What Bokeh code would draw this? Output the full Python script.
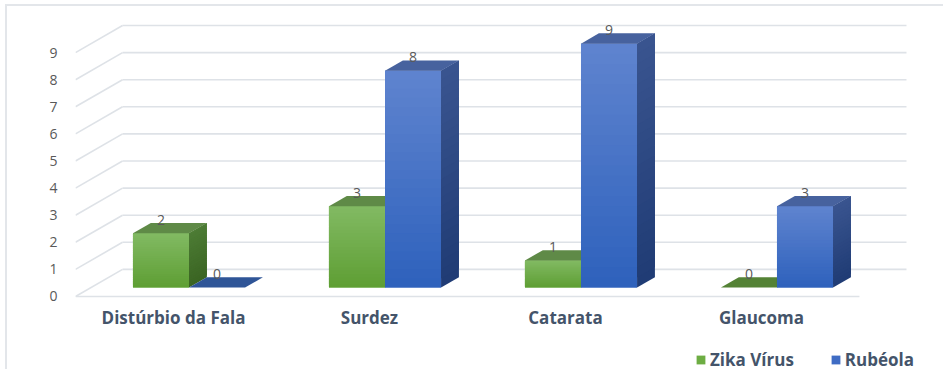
from bokeh.plotting import figure
from bokeh.models import ColumnDataSource, FixedTicker, Legend, LegendItem, Range1d
from bokeh.core.properties import value
from bokeh.embed import file_html
from bokeh.resources import INLINE

# ---------------- data ----------------
categories = ["Distúrbio da Fala", "Surdez", "Catarata", "Glaucoma"]
zika_virus = [2, 3, 1, 0]
rubeola = [0, 8, 9, 3]
series_names = ["Zika Vírus", "Rubéola"]
y_ticks = [0, 1, 2, 3, 4, 5, 6, 7, 8, 9]

# ---------------- styling / pseudo-3D geometry ----------------
DX, DY = 0.24, 1.0          # full floor depth, in data units
BAR_FRONT = 0.33            # depth fraction of bar front face
BAR_DEPTH = 0.38            # depth fraction of bar thickness
BAR_W = 0.286
GROUP_START = 0.214
N = len(categories)
BANDS = 24                  # shading steps for the gradient look

FRONT_TOP = ["#82BA63", "#5F84CF"]
FRONT_BOT = ["#5E9E33", "#2E61BC"]
FRONT_MID = ["#6DAD43", "#3F6CC4"]
SIDE_TOP = ["#4D7C35", "#3A5590"]
SIDE_BOT = ["#3A6422", "#1F3B74"]
TOP = ["#5F8A47", "#47629E"]
FLAT = ["#548235", "#2F5597"]
TEXT = "#44546A"
TICK = "#595959"
GRID = "#DEE2E7"


def mix(c1, c2, t):
    a = [int(c1[i:i + 2], 16) for i in (1, 3, 5)]
    b = [int(c2[i:i + 2], 16) for i in (1, 3, 5)]
    return "#" + "".join("%02x" % round(x + (y - x) * t) for x, y in zip(a, b))


p = figure(width=938, height=365, x_range=Range1d(0, 4.439), y_range=Range1d(-2.768, 10.48),
           output_backend="svg", toolbar_location=None, x_axis_location=None,
           min_border_left=68, min_border_right=0, min_border_top=6, min_border_bottom=0)
p.grid.visible = False
p.outline_line_color = None
p.styles = {"margin-left": "5px", "margin-top": "4px",
            "border-top": "2px solid #E3E6EA", "border-left": "2px solid #E3E6EA"}

# y axis (front tick labels)
p.yaxis.ticker = FixedTicker(ticks=y_ticks)
p.yaxis.axis_line_color = None
p.yaxis.major_tick_line_color = None
p.yaxis.minor_tick_line_color = None
p.yaxis.major_label_standoff = 12
p.yaxis.major_label_text_font = "Open Sans"
p.yaxis.major_label_text_font_size = "14px"
p.yaxis.major_label_text_color = TICK

# walls / gridlines
back_xs = [[DX, N + DX] for v in y_ticks]
back_ys = [[v + DY, v + DY] for v in y_ticks]
diag_xs = [[0, DX] for v in y_ticks]
diag_ys = [[v, v + DY] for v in y_ticks]
p.multi_line(back_xs + diag_xs + [[0, N]], back_ys + diag_ys + [[0, 0]],
             line_color=GRID, line_width=1.6)

# category labels on the floor's front edge
p.text(x=[i + 0.5 for i in range(N)], y=[-0.775] * N, text=categories,
       text_align="center", text_baseline="middle", text_font=value("Open Sans"),
       text_font_style="bold", text_font_size="17px", text_color=TEXT)

# bars
legend_items = []
for s, vals in enumerate([zika_virus, rubeola]):
    x0 = [i + GROUP_START + s * BAR_W + DX * BAR_FRONT for i in range(N)]
    x1 = [a + BAR_W for a in x0]
    y0 = DY * BAR_FRONT
    bx, by = DX * BAR_DEPTH, DY * BAR_DEPTH
    tops = [y0 + v for v in vals]
    src = ColumnDataSource(dict(left=x0, right=x1, bottom=[y0] * N, top=tops))
    r = p.quad(left="left", right="right", bottom="bottom", top="top", source=src,
               fill_color=FRONT_MID[s], line_color=None)
    legend_items.append(LegendItem(label=series_names[s], renderers=[r]))
    # gradient shading of front and side faces (overlapping bands, no seams)
    fl, fr, fb, ft, fc = [], [], [], [], []
    sxs, sys_, sc = [], [], []
    for a, b, v in zip(x0, x1, vals):
        if v <= 0:
            continue
        for k in range(BANDS):
            lo = y0 + v * k / BANDS
            hi = y0 + v * min(k + 2, BANDS) / BANDS
            t = (k + 0.5) / BANDS
            fl.append(a); fr.append(b); fb.append(lo); ft.append(hi)
            fc.append(mix(FRONT_BOT[s], FRONT_TOP[s], t))
            sxs.append([b, b + bx, b + bx, b])
            sys_.append([lo, lo + by, hi + by, hi])
            sc.append(mix(SIDE_BOT[s], SIDE_TOP[s], t))
    p.quad(left=fl, right=fr, bottom=fb, top=ft, fill_color=fc, line_color=None)
    p.patches(sxs, sys_, fill_color=sc, line_color=None)
    top_xs = [[a, b, b + bx, a + bx] for a, b in zip(x0, x1)]
    top_ys = [[t, t, t + by, t + by] for t in tops]
    top_cols = [FLAT[s] if v == 0 else TOP[s] for v in vals]
    p.patches(top_xs, top_ys, fill_color=top_cols, line_color=None)
    # value labels
    p.text(x=[(a + b) / 2 for a, b in zip(x0, x1)], y=[v + 0.82 for v in vals],
           text=[str(v) for v in vals], text_align="center", text_baseline="middle",
           text_font=value("Open Sans"), text_font_size="14px", text_color=TICK)

legend = Legend(items=legend_items, orientation="horizontal", location=(620, 0),
                border_line_alpha=0, background_fill_alpha=0, padding=0, margin=0,
                spacing=36, label_standoff=4, glyph_width=11, glyph_height=11,
                label_text_font="Open Sans", label_text_font_style="bold",
                label_text_font_size="17px", label_text_color=TEXT, label_height=20)
p.add_layout(legend)

open("out.html", "w").write(file_html(p, INLINE))
